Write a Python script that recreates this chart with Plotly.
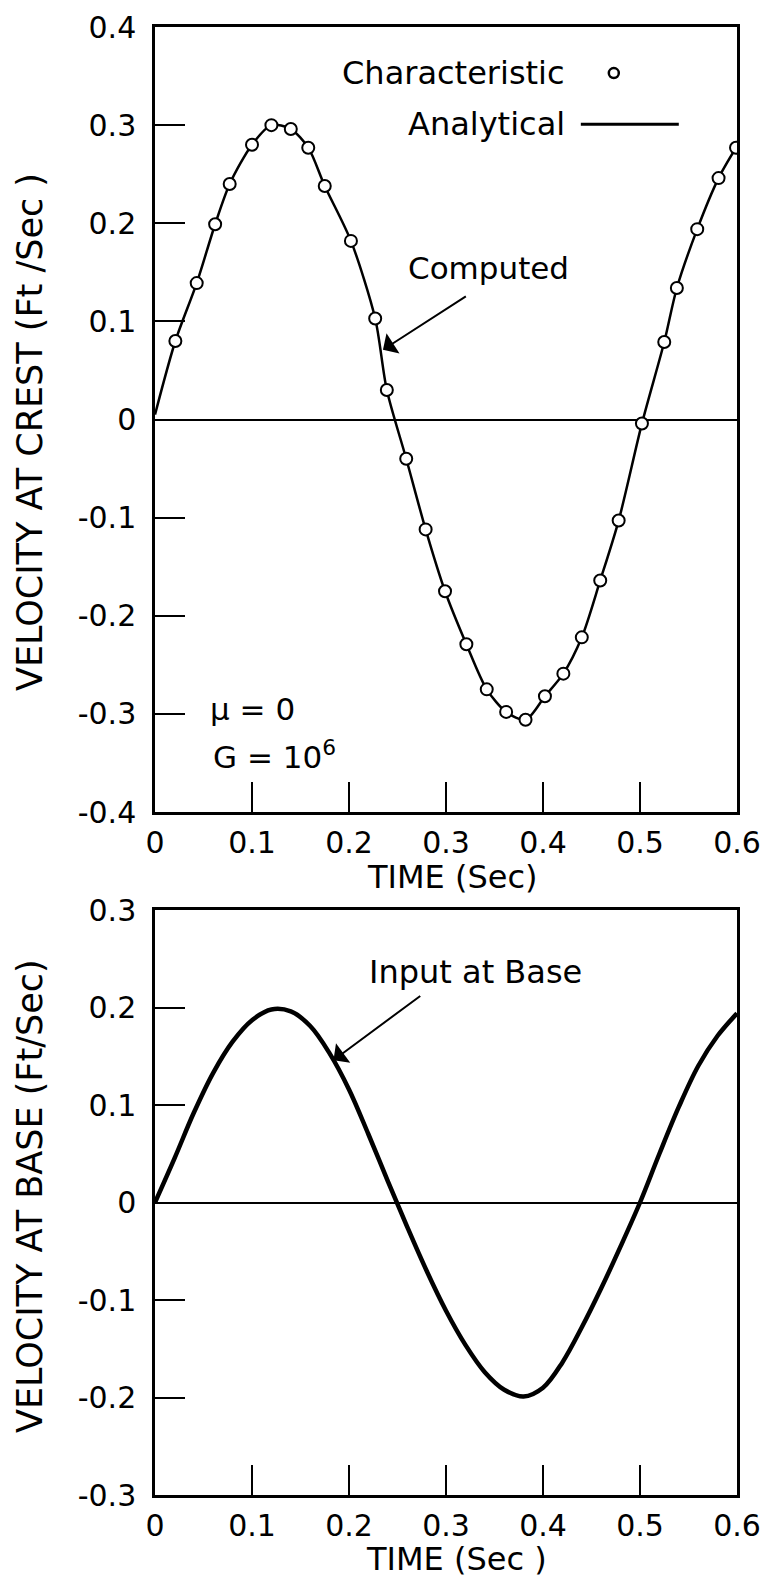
import plotly.graph_objects as go

# ---- data ----
x_tick_vals = [0, 0.1, 0.2, 0.3, 0.4, 0.5, 0.6]
x_tick_text = ["0", "0.1", "0.2", "0.3", "0.4", "0.5", "0.6"]

y1_tick_vals = [0.4, 0.3, 0.2, 0.1, 0, -0.1, -0.2, -0.3, -0.4]
y1_tick_text = ["0.4", "0.3", "0.2", "0.1", "0", "-0.1", "-0.2", "-0.3", "-0.4"]

y2_tick_vals = [0.3, 0.2, 0.1, 0, -0.1, -0.2, -0.3]
y2_tick_text = ["0.3", "0.2", "0.1", "0", "-0.1", "-0.2", "-0.3"]

# Top: characteristic solution (open circles)
t_char = [0.021, 0.043, 0.062, 0.077, 0.100, 0.120, 0.140, 0.158, 0.175, 0.202,
          0.227, 0.239, 0.259, 0.279, 0.299, 0.321, 0.342, 0.362, 0.382, 0.402,
          0.421, 0.440, 0.459, 0.478, 0.502, 0.525, 0.538, 0.559, 0.581, 0.599]
v_char = [0.080, 0.139, 0.199, 0.240, 0.280, 0.300, 0.296, 0.277, 0.238, 0.182,
          0.103, 0.030, -0.040, -0.112, -0.175, -0.229, -0.275, -0.298, -0.306, -0.282,
          -0.259, -0.222, -0.164, -0.103, -0.004, 0.079, 0.134, 0.194, 0.246, 0.277]

# Top: analytical solution (line)
t_anal = [0.000, 0.021, 0.043, 0.062, 0.077, 0.100, 0.120, 0.140, 0.158, 0.175, 0.202,
          0.227, 0.239, 0.259, 0.279, 0.299, 0.321, 0.342, 0.362, 0.382, 0.402,
          0.421, 0.440, 0.459, 0.478, 0.502, 0.525, 0.538, 0.559, 0.581, 0.599]
v_anal = [0.005, 0.080, 0.139, 0.199, 0.240, 0.280, 0.300, 0.296, 0.277, 0.238, 0.182,
          0.103, 0.030, -0.040, -0.112, -0.175, -0.229, -0.275, -0.298, -0.306, -0.282,
          -0.259, -0.222, -0.164, -0.103, -0.004, 0.079, 0.134, 0.194, 0.246, 0.277]

# Bottom: input velocity at base
t_base = [0.00, 0.02, 0.04, 0.06, 0.08, 0.10, 0.12, 0.14, 0.16, 0.18,
          0.20, 0.22, 0.24, 0.26, 0.28, 0.30, 0.32, 0.34, 0.36, 0.38,
          0.40, 0.42, 0.44, 0.46, 0.48, 0.50, 0.52, 0.54, 0.56, 0.58, 0.60]
v_base = [0.000, 0.045, 0.092, 0.133, 0.165, 0.187, 0.198, 0.196, 0.181, 0.153,
          0.116, 0.070, 0.022, -0.025, -0.070, -0.111, -0.146, -0.174, -0.192, -0.199,
          -0.190, -0.164, -0.128, -0.088, -0.045, 0.000, 0.050, 0.098, 0.140, 0.171, 0.194]

# legend sample positions (data units of top panel)
leg_marker_t = [0.473]
leg_marker_v = [0.353]
leg_line_t = [0.439, 0.540]
leg_line_v = [0.301, 0.301]

FONT = "DejaVu Sans"
W, H = 768, 1582

fig = go.Figure()

fig.add_trace(go.Scatter(x=t_anal, y=v_anal, mode="lines",
                         line=dict(color="black", width=2.5, shape="spline", smoothing=0.8),
                         xaxis="x", yaxis="y", showlegend=False))
fig.add_trace(go.Scatter(x=t_char, y=v_char, mode="markers",
                         marker=dict(symbol="circle", size=12, color="white",
                                     line=dict(color="black", width=2)),
                         xaxis="x", yaxis="y", showlegend=False))
fig.add_trace(go.Scatter(x=leg_marker_t, y=leg_marker_v, mode="markers",
                         marker=dict(symbol="circle", size=10, color="white",
                                     line=dict(color="black", width=2.5)),
                         xaxis="x", yaxis="y", showlegend=False))
fig.add_trace(go.Scatter(x=leg_line_t, y=leg_line_v, mode="lines",
                         line=dict(color="black", width=3),
                         xaxis="x", yaxis="y", showlegend=False))
fig.add_trace(go.Scatter(x=t_base, y=v_base, mode="lines",
                         line=dict(color="black", width=4.5, shape="spline", smoothing=1.0),
                         xaxis="x2", yaxis="y2", showlegend=False))

xdom = [155 / W, 737 / W]
y1dom = [1 - 812 / H, 1 - 27 / H]
y2dom = [1 - 1495 / H, 1 - 910 / H]

axis_common = dict(showline=True, linecolor="black", linewidth=2.5, mirror=True,
                   ticks="inside", ticklen=30, tickwidth=2, tickcolor="black",
                   showgrid=False, automargin=False,
                   tickfont=dict(family=FONT, size=30, color="black"))

fig.update_layout(
    template="none",
    width=W, height=H, margin=dict(l=0, r=0, t=0, b=0, pad=0, autoexpand=False),
    paper_bgcolor="white", plot_bgcolor="white",
    font=dict(family=FONT, color="black"),
    showlegend=False,
    xaxis=dict(domain=xdom, anchor="y", range=[0, 0.6], tickvals=x_tick_vals,
               ticktext=x_tick_text, zeroline=False, ticklabelstandoff=2, **axis_common),
    yaxis=dict(domain=y1dom, anchor="x", range=[-0.4, 0.4], tickvals=y1_tick_vals,
               ticktext=y1_tick_text, zeroline=True, zerolinecolor="black",
               zerolinewidth=1.5, ticklabelstandoff=10, **axis_common),
    xaxis2=dict(domain=xdom, anchor="y2", range=[0, 0.6], tickvals=x_tick_vals,
                ticktext=x_tick_text, zeroline=False, ticklabelstandoff=2, **axis_common),
    yaxis2=dict(domain=y2dom, anchor="x2", range=[-0.3, 0.3], tickvals=y2_tick_vals,
                ticktext=y2_tick_text, zeroline=True, zerolinecolor="black",
                zerolinewidth=1.5, ticklabelstandoff=10, **axis_common),
)

ann = []
def txt(text, x, y, size=31, xanchor="center", xref="x", yref="y", angle=0):
    ann.append(dict(text=text, x=x, y=y, xref=xref, yref=yref, showarrow=False,
                    xanchor=xanchor, yanchor="middle", textangle=angle,
                    font=dict(family=FONT, size=size, color="black")))

# axis titles
txt("TIME (Sec)", 452 / W, 1 - 877 / H, size=32, xref="paper", yref="paper")
txt("TIME (Sec )", 456 / W, 1 - 1559 / H, size=32, xref="paper", yref="paper")
txt("VELOCITY AT CREST (Ft /Sec )", 30 / W, 1 - 432 / H, size=35, xref="paper",
    yref="paper", angle=-90)
txt("VELOCITY AT BASE (Ft/Sec)", 30 / W, 1 - 1196 / H, size=35, xref="paper",
    yref="paper", angle=-90)

# top panel labels
txt("Characteristic", 0.425, 0.353, size=32, xanchor="right")
txt("Analytical", 0.425, 0.301, size=32, xanchor="right")
txt("Computed", 0.344, 0.154, size=31)
txt("\u03bc = 0", 0.101, -0.295, size=31)
txt("G = 10<sup>6</sup>", 0.123, -0.342, size=31)

# bottom panel label
txt("Input at Base", 0.330, 0.236, size=32, xref="x2", yref="y2")

# arrows
ann.append(dict(x=0.235, y=0.071, ax=0.322, ay=0.1265, xref="x", yref="y",
                axref="x", ayref="y", text="", showarrow=True, arrowhead=1,
                arrowsize=2, arrowwidth=2, arrowcolor="black"))
ann.append(dict(x=0.184, y=0.146, ax=0.275, ay=0.213, xref="x2", yref="y2",
                axref="x2", ayref="y2", text="", showarrow=True, arrowhead=1,
                arrowsize=2, arrowwidth=2, arrowcolor="black"))

fig.update_layout(annotations=ann)

fig.write_html("out.html")
